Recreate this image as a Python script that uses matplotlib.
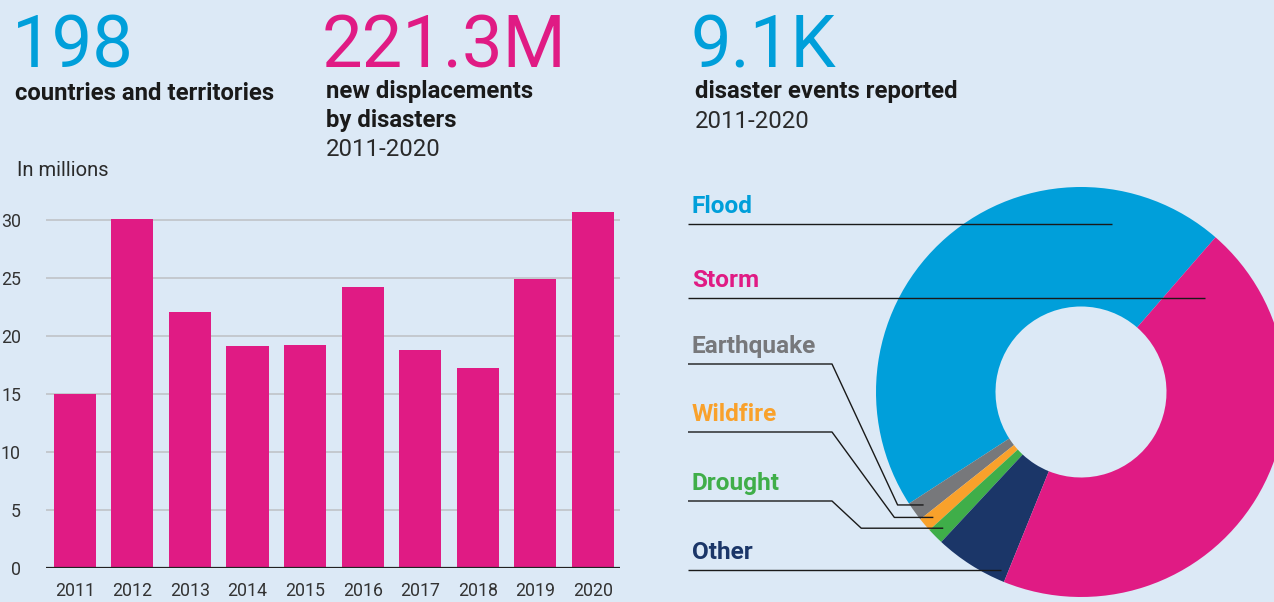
import numpy as np
import matplotlib
matplotlib.use('Agg')
import matplotlib.pyplot as plt

plt.rcParams['font.family'] = ['Roboto', 'DejaVu Sans']

# ---- data ----
years = ['2011', '2012', '2013', '2014', '2015', '2016', '2017', '2018', '2019', '2020']
displacements = [15.0, 30.1, 22.1, 19.1, 19.2, 24.2, 18.8, 17.2, 24.9, 30.7]   # millions
yticks = [0, 5, 10, 15, 20, 25, 30]

hazards = ['Flood', 'Earthquake', 'Wildfire', 'Drought', 'Other', 'Storm']
shares = [45.5, 1.5, 1.1, 1.3, 5.8, 44.7]          # % of disaster events

BG = '#dce9f6'
BLUE, PINK = '#009fda', '#e01b84'
hazard_colors = {'Flood': BLUE, 'Storm': PINK, 'Earthquake': '#77787b',
                 'Wildfire': '#f9a12b', 'Drought': '#3fae49', 'Other': '#1b3668'}
TXT = '#1a1a1a'

W, H = 1274, 602
fig = plt.figure(figsize=(W / 100, H / 100), dpi=100, facecolor=BG)


def fx(x, y):
    return x / W, 1 - y / H


# ---- headline numbers ----
for x, num, col in [(12, '198', BLUE), (322, '221.3M', PINK), (691, '9.1K', BLUE)]:
    fig.text(*fx(x, 67), num, fontsize=52, color=col, va='baseline', ha='left')
fig.text(*fx(15, 100), 'countries and territories', fontsize=17.2, weight='bold', color=TXT)
fig.text(*fx(326, 98), 'new displacements', fontsize=17.2, weight='bold', color=TXT)
fig.text(*fx(326, 127), 'by disasters', fontsize=17.2, weight='bold', color=TXT)
fig.text(*fx(326, 156), '2011-2020', fontsize=17.2, color='#2a2a2a')
fig.text(*fx(695, 98), 'disaster events reported', fontsize=17.2, weight='bold', color=TXT)
fig.text(*fx(695, 128), '2011-2020', fontsize=17.2, color='#2a2a2a')
fig.text(*fx(17, 176), 'In millions', fontsize=14.5, color='#2a2a2a')

# ---- bar chart ----
ax_l, ax_r, ax_b = 46, 620, 568
ymax = 31
ax_t = ax_b - ymax * 11.6
ax = fig.add_axes([ax_l / W, 1 - ax_b / H, (ax_r - ax_l) / W, (ax_b - ax_t) / H])
ax.set_facecolor(BG)
xpos = np.arange(len(years))
ax.bar(xpos, displacements, width=0.73, color=PINK, zorder=2)
ax.axhline(0, color='#222222', lw=1.6, zorder=3)
ax.set_xlim(-0.5, len(years) - 0.53)
ax.set_ylim(0, ymax)
ax.set_yticks(yticks)
ax.set_xticks(xpos)
ax.set_xticklabels(years)
ax.yaxis.grid(True, color='#c2c6cb', lw=1.3, zorder=0)
ax.set_axisbelow(True)
for s in ax.spines.values():
    s.set_visible(False)
ax.tick_params(axis='both', length=0, labelsize=12.8, labelcolor='#333333')
ax.tick_params(axis='y', pad=18)
ax.tick_params(axis='x', pad=10)

# ---- donut ----
CX, CY, R = 1081, 392, 205
ax2 = fig.add_axes([(CX - R) / W, 1 - (CY + R) / H, 2 * R / W, 2 * R / H])
wedges, _ = ax2.pie(shares, colors=[hazard_colors[h] for h in hazards], startangle=49,
                    counterclock=True, radius=1,
                    wedgeprops=dict(width=1 - 85.5 / R, linewidth=0))
ax2.set_xlim(-1, 1)
ax2.set_ylim(-1, 1)
ax2.set_aspect('equal')
ax2.axis('off')


def d(x, y):
    return (x - CX) / R, (CY - y) / R


LINE = dict(color='#1a1a1a', lw=1.0, clip_on=False, solid_capstyle='butt')
label_x, line_x0, knee_x = 692, 688, 832
# label baseline y (px) for each hazard
label_base = {'Flood': 213, 'Storm': 287, 'Earthquake': 353, 'Wildfire': 421,
              'Drought': 490, 'Other': 559}
for name in hazards:
    tx, ty = d(label_x, label_base[name])
    ax2.text(tx, ty, name, fontsize=17.6, weight='bold', color=hazard_colors[name],
             va='baseline', ha='left', clip_on=False)

# straight leaders
for name, x_end in [('Flood', 1112), ('Storm', 1205), ('Other', 1001)]:
    yl = label_base[name] + 11
    x0, y0 = d(line_x0, yl)
    x1, _ = d(x_end, yl)
    ax2.plot([x0, x1], [y0, y0], **LINE)

# elbow leaders to the thin wedges
for name, back in [('Earthquake', 26), ('Wildfire', 39), ('Drought', 82)]:
    w = wedges[hazards.index(name)]
    mid = np.deg2rad((w.theta1 + w.theta2) / 2)
    ex, ey = 0.945 * np.cos(mid), 0.945 * np.sin(mid)
    yl = label_base[name] + 11
    x0, y0 = d(line_x0, yl)
    kx, _ = d(knee_x, yl)
    bx = ex - back / R
    ax2.plot([x0, kx, bx, ex], [y0, y0, ey, ey], **LINE)

fig.savefig('out.png', dpi=100, facecolor=BG)
